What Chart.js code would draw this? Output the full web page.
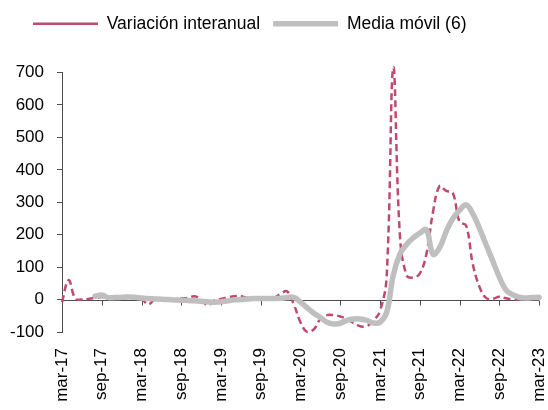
<!DOCTYPE html>
<html>
<head>
<meta charset="utf-8">
<script src="https://cdn.jsdelivr.net/npm/chart.js@4"></script>
<style>
  html, body { margin: 0; padding: 0; background: #fff; }
  #wrap { width: 548px; height: 410px; position: relative; }
</style>
</head>
<body>
<div id="wrap"><canvas id="chart"></canvas></div>
<script>
// Meses en castellano, mar-17 .. mar-23
const monthNames = ['ene', 'feb', 'mar', 'abr', 'may', 'jun', 'jul', 'ago', 'sep', 'oct', 'nov', 'dic'];
const categories = [];
for (let i = 0; i < 73; i++) {
    const m = (2 + i) % 12;
    const y = 17 + Math.floor((2 + i) / 12);
    categories.push(monthNames[m] + '-' + y);
}

const interanual = [
    -8, 60, 3, 0, 2, 5, 8, 5, 5, 8, 12, 5,
    3, -15, 0, 3, 2, 0, 3, 5, 10, 0, -18, -3,
    2, 6, 10, 10, 5, 3, 3, 3, 5, 18, 25, -15,
    -70, -100, -92, -60, -48, -48, -52, -60, -72, -82, -82, -65,
    -35, 70, 715, 200, 75, 68, 80, 140, 270, 350, 335, 328,
    240, 228, 110, 40, 5, 2, 9, 4, 1, 0, 0, 0,
    0
];

const mediaMovil = [
    null, null, null, null, null, 10, 14, 6, 6, 7, 8, 7,
    5, 3, 2, 1, 0, -1, -2, -3, -4, -5, -7, -8,
    -7, -4, -1, 0, 2, 3, 3, 3, 3, 4, 6, 7,
    -8, -25, -42, -55, -70, -75, -73, -64, -60, -60, -64, -72,
    -70, -40, 75, 140, 170, 190, 205, 215, 140, 160, 210, 250,
    275, 292, 265, 220, 170, 120, 70, 30, 15, 7, 5, 6,
    7
];

const yTicks = [-100, 0, 100, 200, 300, 400, 500, 600, 700];

const axisColor = '#4d4d4d';

Chart.defaults.font.family = "'Liberation Sans', Arial, sans-serif";
Chart.defaults.font.size = 17;
Chart.defaults.color = '#000';

// eje horizontal en cero con marcas cada 6 meses
const zeroAxis = {
    id: 'zeroAxis',
    beforeDatasetsDraw(chart) {
        const x = chart.scales.x, y = chart.scales.y;
        const ctx = chart.ctx;
        const y0 = Math.round(y.getPixelForValue(0)) + 0.5;
        ctx.save();
        ctx.strokeStyle = axisColor;
        ctx.lineWidth = 1;
        ctx.beginPath();
        ctx.moveTo(chart.chartArea.left, y0);
        ctx.lineTo(chart.chartArea.right, y0);
        for (let i = 0; i < categories.length; i += 6) {
            const px = Math.round(x.getPixelForValue(i)) + 0.5;
            ctx.moveTo(px, y0);
            ctx.lineTo(px, y0 + 5);
        }
        ctx.stroke();
        ctx.restore();
    }
};

// leyenda: más espacio debajo y desplazada a la derecha
const legendPlace = {
    id: 'legendPlace',
    beforeInit(chart) {
        const fit = chart.legend.fit;
        chart.legend.fit = function () {
            fit.bind(chart.legend)();
            this.height += 30;
        };
    },
    afterLayout(chart) {
        chart.legend.left = 20;
    }
};

new Chart(document.getElementById('chart'), {
    type: 'line',
    data: {
        labels: categories,
        datasets: [{
            label: 'Variación interanual',
            data: interanual,
            borderColor: '#bf4a6d',
            borderWidth: 2.5,
            borderDash: [7, 4],
            pointRadius: 0,
            tension: 0.4,
            order: 1,
            clip: 8
        }, {
            label: 'Media móvil (6)',
            data: mediaMovil,
            borderColor: '#bfbfbf',
            borderWidth: 5.5,
            borderCapStyle: 'round',
            borderJoinStyle: 'round',
            pointRadius: 0,
            tension: 0.4,
            order: 0,
            clip: 8
        }]
    },
    options: {
        responsive: true,
        maintainAspectRatio: false,
        animation: false,
        events: [],
        layout: {
            padding: { top: 2, left: 0, right: 0, bottom: 0 }
        },
        plugins: {
            legend: {
                display: true,
                position: 'top',
                align: 'start',
                labels: {
                    usePointStyle: true,
                    pointStyle: 'line',
                    pointStyleWidth: 65,
                    boxHeight: 17,
                    padding: 13,
                    color: '#000',
                    font: { size: 17.5 },
                    sort: (a, b) => a.datasetIndex - b.datasetIndex
                }
            },
            tooltip: { enabled: false }
        },
        scales: {
            x: {
                type: 'category',
                offset: false,
                grid: { display: false, drawTicks: false },
                border: { display: false },
                ticks: {
                    autoSkip: false,
                    minRotation: 90,
                    maxRotation: 90,
                    padding: 16,
                    color: '#000',
                    callback: (v, i) => (i % 6 === 0 ? categories[i] : '')
                },
                afterFit(scale) {
                    scale.height = 78;
                    scale.paddingRight = 9;
                    scale.paddingLeft = 0;
                }
            },
            y: {
                min: -100,
                max: 700,
                afterBuildTicks(scale) {
                    scale.ticks = yTicks.map(v => ({ value: v }));
                },
                grid: {
                    display: true,
                    drawOnChartArea: false,
                    drawTicks: true,
                    tickLength: 5,
                    color: axisColor
                },
                border: { display: true, color: axisColor },
                ticks: {
                    padding: 13,
                    color: '#000'
                },
                afterFit(scale) {
                    scale.width = 62;
                }
            }
        }
    },
    plugins: [zeroAxis, legendPlace]
});
</script>
</body>
</html>
